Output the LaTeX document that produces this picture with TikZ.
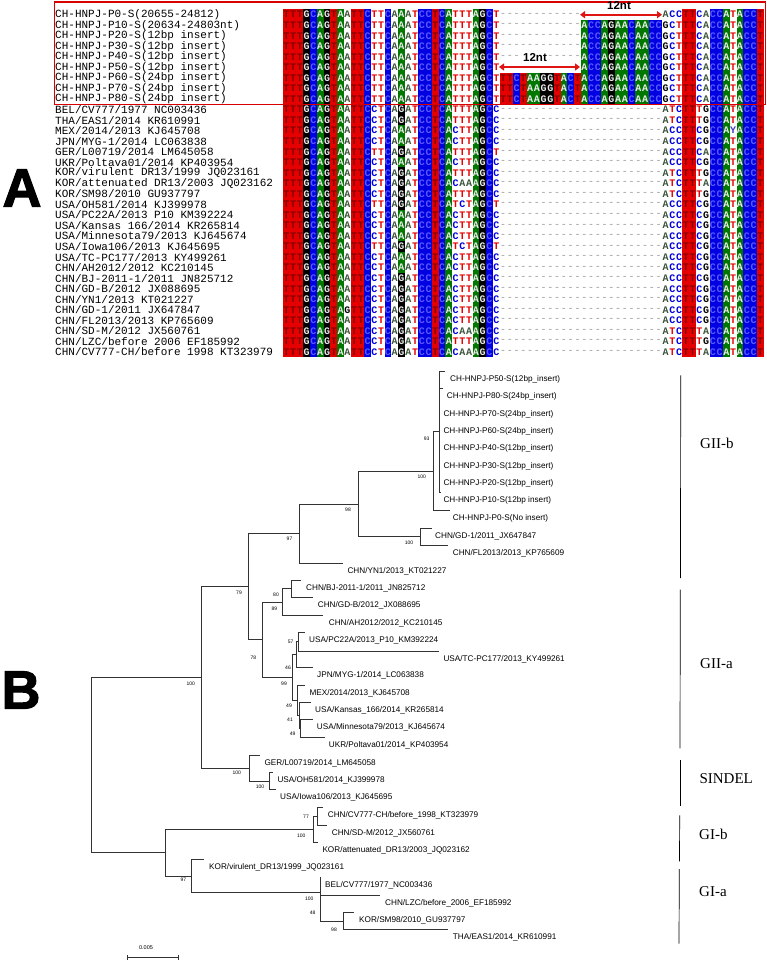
\documentclass[tikz,border=0pt]{standalone}
\usepackage{fontspec}
\setmainfont{Liberation Sans}
\newfontfamily\monof{Liberation Mono}
\newfontfamily\seriff{Liberation Serif}
\newfontfamily\heavyf[BoldFeatures={FakeBold=2}]{Liberation Sans}
\usetikzlibrary{arrows.meta}

\definecolor{bgT}{RGB}{228,0,0}
\definecolor{bgC}{RGB}{0,0,225}
\definecolor{bgA}{RGB}{0,120,0}
\definecolor{bgG}{RGB}{0,0,0}
\definecolor{bgY}{RGB}{120,120,120}
\definecolor{onT}{RGB}{130,0,0}
\definecolor{onC}{RGB}{90,90,255}
\definecolor{onA}{RGB}{235,235,235}
\definecolor{onG}{RGB}{235,235,235}
\definecolor{onY}{RGB}{235,235,235}
\definecolor{fgT}{RGB}{228,0,0}
\definecolor{fgC}{RGB}{0,0,225}
\definecolor{fgA}{RGB}{60,85,60}
\definecolor{fgG}{RGB}{0,0,0}
\definecolor{fgY}{RGB}{60,60,190}
\definecolor{arrred}{RGB}{225,20,20}

\newcount\colidx
\def\mkmask#1{\colidx=0 \mkmaskA#1\relax}
\def\mkmaskA#1{\ifx#1\relax\else\expandafter\def\csname msk\the\colidx\endcsname{#1}\advance\colidx by 1 \expandafter\mkmaskA\fi}

\def\drawres#1{%
 \if#1.\else
 \pgfmathsetmacro\cx{283+6.77*\the\colidx}%
 \if#1-%
   \node[dashc] (r\rowno-\the\colidx) at (\cx+3.385,\rowy) {-};%
 \else
   \if1\csname msk\the\colidx\endcsname
     \fill[bg#1] (\cx,\rowy-5.3) rectangle ++(6.85,10.6);%
     \node[res,text=on#1] (r\rowno-\the\colidx) at (\cx+3.385,\rowy) {#1};%
   \else
     \node[res,text=fg#1] (r\rowno-\the\colidx) at (\cx+3.385,\rowy) {#1};%
   \fi
 \fi
 \fi}
\def\walkrow#1{\ifx#1\relax\else\drawres{#1}\advance\colidx by 1 \expandafter\walkrow\fi}
\newcommand\alrow[3]{%
 \pgfmathsetmacro\rowy{14.7+10.54*#1}%
 \def\rowno{#1}%
 \node[seqlab] (lab#1) at (55,\rowy) {#2};%
 \edef\seqtmp{#3}\colidx=0 \expandafter\walkrow\seqtmp\relax}

\def\Dz{------------}
\def\Bz{............}
\def\Dh{---....-----}
\def\pP{TTTGCAGTAATTCTTCAAATCCTCATTTAGCT}
\def\pA{TTTGCAGTAATTCCTCAGATCCTCATTTAGCC}
\def\pB{TTTGCAGTAATTCCTCAAATCCTCACTTAGCC}
\def\pC{TTTGCAGTAATTCTTCAGATCCTCATCTAGCT}
\def\pD{TTTGCAGTAATTCCTCAGATCCTCACTTAGCC}
\def\pE{TTTGCAGTAATTCCTCAGATCCTCACAAAGCC}
\def\pF{TTTGCAGTAATTCTTCAGATCCTCATTTAGCT}
\def\pG{TTTGCAGTAGTTCCTCAGATCCTCACTTAGCC}
\def\iA{ACCAGAACAACC}
\def\iB{TTCTAAGGTACT}
\def\sP{ACCTTCACCATACCT}
\def\sQ{GCTTTCACCATACCT}
\def\sG{ATCTTTGCCATACCT}
\def\sAt{ATCTTTACCATACCT}
\def\sC{ACCTTCGCCATACCT}
\def\sM{ACCTTCGCCAYACCT}
\def\sF{ACCTTCACCATACCT}

\begin{document}
\begin{tikzpicture}[x=1pt,y=-1pt,
  res/.style={inner sep=0pt, font=\monof\bfseries\fontsize{10}{10}\selectfont},
  dashc/.style={inner sep=0pt, font=\monof\fontsize{10}{10}\selectfont, text=black!40},
  seqlab/.style={anchor=west, inner sep=0pt, font=\monof\fontsize{11}{11}\selectfont},
  bigletter/.style={inner sep=0pt, font=\heavyf\bfseries\fontsize{54}{54}\selectfont},
  ntlab/.style={inner sep=0pt, font=\bfseries\fontsize{11.5}{11.5}\selectfont},
  ntarrow/.style={draw=arrred, line width=2pt, {Triangle[length=5pt,width=7pt]}-{Triangle[length=5pt,width=7pt]}},
  tree/.style={draw=black!80, line width=0.75pt},
  leaf/.style={anchor=west, inner sep=0pt, font=\fontsize{8.2}{8.2}\selectfont},
  boot/.style={inner sep=0pt, font=\fontsize{5}{5}\selectfont},
  clade/.style={anchor=west, inner sep=0pt, font=\seriff\fontsize{15}{15}\selectfont},
  cladebar/.style={draw=black, line width=0.7pt}]
\useasboundingbox (0,0) rectangle (767,960);
\fill[white] (0,0) rectangle (767,960);

% ---------- Panel A: alignment ----------
\mkmask{11111111101110010100111110001110111111111111111111111111000110011101111}
\alrow{0}{CH-HNPJ-P0-S(20655-24812)}{\pP\Dz\Bz\sP}
\alrow{1}{CH-HNPJ-P10-S(20634-24803nt)}{\pP\Dz\iA\sQ}
\alrow{2}{CH-HNPJ-P20-S(12bp insert)}{\pP\Dz\iA\sQ}
\alrow{3}{CH-HNPJ-P30-S(12bp insert)}{\pP\Dz\iA\sQ}
\alrow{4}{CH-HNPJ-P40-S(12bp insert)}{\pP\Dh\iA\sQ}
\alrow{5}{CH-HNPJ-P50-S(12bp insert)}{\pP\Bz\iA\sQ}
\alrow{6}{CH-HNPJ-P60-S(24bp insert)}{\pP\iB\iA\sQ}
\alrow{7}{CH-HNPJ-P70-S(24bp insert)}{\pP\iB\iA\sQ}
\alrow{8}{CH-HNPJ-P80-S(24bp insert)}{\pP\iB\iA\sQ}
\alrow{9}{BEL/CV777/1977 NC003436}{\pA\Dz\Dz\sG}
\alrow{10}{THA/EAS1/2014 KR610991}{\pA\Dz\Dz\sG}
\alrow{11}{MEX/2014/2013 KJ645708}{\pB\Dz\Dz\sM}
\alrow{12}{JPN/MYG-1/2014 LC063838}{\pB\Dz\Dz\sC}
\alrow{13}{GER/L00719/2014 LM645058}{\pF\Dz\Dz\sF}
\alrow{14}{UKR/Poltava01/2014 KP403954}{\pB\Dz\Dz\sC}
\alrow{15}{KOR/virulent DR13/1999 JQ023161}{\pA\Dz\Dz\sG}
\alrow{16}{KOR/attenuated DR13/2003 JQ023162}{\pE\Dz\Dz\sAt}
\alrow{17}{KOR/SM98/2010 GU937797}{\pA\Dz\Dz\sG}
\alrow{18}{USA/OH581/2014 KJ399978}{\pC\Dz\Dz\sC}
\alrow{19}{USA/PC22A/2013 P10 KM392224}{\pB\Dz\Dz\sC}
\alrow{20}{USA/Kansas 166/2014 KR265814}{\pB\Dz\Dz\sC}
\alrow{21}{USA/Minnesota79/2013 KJ645674}{\pB\Dz\Dz\sC}
\alrow{22}{USA/Iowa106/2013 KJ645695}{\pC\Dz\Dz\sC}
\alrow{23}{USA/TC-PC177/2013 KY499261}{\pB\Dz\Dz\sC}
\alrow{24}{CHN/AH2012/2012 KC210145}{\pB\Dz\Dz\sC}
\alrow{25}{CHN/BJ-2011-1/2011 JN825712}{\pD\Dz\Dz\sC}
\alrow{26}{CHN/GD-B/2012 JX088695}{\pD\Dz\Dz\sC}
\alrow{27}{CHN/YN1/2013 KT021227}{\pD\Dz\Dz\sC}
\alrow{28}{CHN/GD-1/2011 JX647847}{\pG\Dz\Dz\sC}
\alrow{29}{CHN/FL2013/2013 KP765609}{\pD\Dz\Dz\sC}
\alrow{30}{CHN/SD-M/2012 JX560761}{\pE\Dz\Dz\sAt}
\alrow{31}{CHN/LZC/before 2006 EF185992}{\pA\Dz\Dz\sG}
\alrow{32}{CHN/CV777-CH/before 1998 KT323979}{\pE\Dz\Dz\sAt}

\coordinate (boxa) at (54.5,2);
\coordinate (boxb) at (765.5,104.5);
\draw[draw=red!85!black, line width=1.2pt] (boxa) rectangle (boxb);

\coordinate (ar1a) at (580,14.7);
\coordinate (ar1b) at (662,14.7);
\draw[ntarrow] (ar1a) -- (ar1b);
\node[ntlab] (nt1) at (619,5.6) {12nt};
\coordinate (ar2a) at (499,67);
\coordinate (ar2b) at (580,67);
\draw[ntarrow] (ar2a) -- (ar2b);
\node[ntlab] (nt2) at (535,57.2) {12nt};

\node[bigletter] (labA) at (22,188) {A};
\node[bigletter] (labB) at (21,690) {B};

% ---------- Panel B: tree ----------
\coordinate (n93) at (439.3,431.85);
\coordinate (lP50) at (445,371);
\coordinate (lP80) at (443,388.7);
\coordinate (lP70) at (439.3,406);
\coordinate (lP60) at (439.3,423.3);
\coordinate (lP40) at (439.3,440.7);
\coordinate (lP30) at (439.3,458);
\coordinate (lP20) at (439.3,475.3);
\coordinate (lP10) at (441,492.7);
\coordinate (nP) at (433.3,471.3);
\coordinate (lP0) at (450,510.7);
\coordinate (nGF) at (420,536.8);
\coordinate (lGD1) at (431.7,528.3);
\coordinate (lFL) at (448.3,545.3);
\coordinate (nY) at (358,504.05);
\coordinate (lYN1) at (343,563.3);
\coordinate (nX) at (299.3,533.7);
\coordinate (nBG) at (291,588.8);
\coordinate (lBJ) at (300.7,580.3);
\coordinate (lGDB) at (313.3,597.3);
\coordinate (nC1) at (282.7,602.05);
\coordinate (lAH) at (323.3,615.3);
\coordinate (n57) at (298,641.85);
\coordinate (lPC) at (305,632.7);
\coordinate (lTC) at (439,651);
\coordinate (nU) at (296.7,654.6);
\coordinate (lJPN) at (313,667.3);
\coordinate (nL3) at (300.7,728.7);
\coordinate (lMIN) at (312.5,719.7);
\coordinate (lUKR) at (324.5,737.7);
\coordinate (nL2) at (299.5,715.7);
\coordinate (lKAN) at (311,702.7);
\coordinate (nL) at (297.5,700.5);
\coordinate (lMEX) at (305,685.3);
\coordinate (n99) at (292.3,677.55);
\coordinate (nGIIa) at (262.3,639.8);
\coordinate (n79) at (248.3,586.75);
\coordinate (nOI) at (269.3,781);
\coordinate (lOH) at (273,772.3);
\coordinate (lIO) at (276,789.7);
\coordinate (lGER) at (260,755.3);
\coordinate (nSIN) at (249,768.15);
\coordinate (nGII) at (201.7,677.45);
\coordinate (n77) at (317.7,816.15);
\coordinate (lCV) at (322.5,807.3);
\coordinate (lSDM) at (327,825);
\coordinate (lKATT) at (318,842);
\coordinate (nGIb) at (313.3,829.1);
\coordinate (lKVIR) at (204,859.7);
\coordinate (lBEL) at (321,877.3);
\coordinate (lLZC) at (380,895);
\coordinate (lSM) at (354,912.3);
\coordinate (lTHA) at (448.3,929.7);
\coordinate (n98b) at (343.3,921);
\coordinate (n48) at (320.7,908);
\coordinate (nGIa) at (320,892.65);
\coordinate (n97b) at (191.7,876.2);
\coordinate (nGI) at (165.7,852.65);
\coordinate (nRoot) at (91.7,765.05);

\draw[tree] (n93) |- (lP50);
\draw[tree] (n93) |- (lP80);
\draw[tree] (n93) |- (lP10);
\draw[tree] (nP) |- (n93);
\draw[tree] (nP) |- (lP0);
\draw[tree] (nGF) |- (lGD1);
\draw[tree] (nGF) |- (lFL);
\draw[tree] (nY) |- (nP);
\draw[tree] (nY) |- (nGF);
\draw[tree] (nX) |- (nY);
\draw[tree] (nX) |- (lYN1);
\draw[tree] (nBG) |- (lBJ);
\draw[tree] (nBG) |- (lGDB);
\draw[tree] (nC1) |- (nBG);
\draw[tree] (nC1) |- (lAH);
\draw[tree] (n57) |- (lPC);
\draw[tree] (n57) |- (lTC);
\draw[tree] (nU) |- (n57);
\draw[tree] (nU) |- (lJPN);
\draw[tree] (nL3) |- (lMIN);
\draw[tree] (nL3) |- (lUKR);
\draw[tree] (nL2) |- (lKAN);
\draw[tree] (nL2) |- (nL3);
\draw[tree] (nL) |- (lMEX);
\draw[tree] (nL) |- (nL2);
\draw[tree] (n99) |- (nU);
\draw[tree] (n99) |- (nL);
\draw[tree] (nGIIa) |- (nC1);
\draw[tree] (nGIIa) |- (n99);
\draw[tree] (n79) |- (nX);
\draw[tree] (n79) |- (nGIIa);
\draw[tree] (nOI) |- (lOH);
\draw[tree] (nOI) |- (lIO);
\draw[tree] (nSIN) |- (lGER);
\draw[tree] (nSIN) |- (nOI);
\draw[tree] (nGII) |- (n79);
\draw[tree] (nGII) |- (nSIN);
\draw[tree] (n77) |- (lCV);
\draw[tree] (n77) |- (lSDM);
\draw[tree] (nGIb) |- (n77);
\draw[tree] (nGIb) |- (lKATT);
\draw[tree] (n98b) |- (lSM);
\draw[tree] (n98b) |- (lTHA);
\draw[tree] (n48) |- (lLZC);
\draw[tree] (n48) |- (n98b);
\draw[tree] (nGIa) |- (lBEL);
\draw[tree] (nGIa) |- (n48);
\draw[tree] (n97b) |- (lKVIR);
\draw[tree] (n97b) |- (nGIa);
\draw[tree] (nGI) |- (nGIb);
\draw[tree] (nGI) |- (n97b);
\draw[tree] (nRoot) |- (nGII);
\draw[tree] (nRoot) |- (nGI);

% leaf labels
\node[leaf] (tP50) at (450,379) {CH-HNPJ-P50-S(12bp\_insert)};
\node[leaf] (tP80) at (446.7,396.7) {CH-HNPJ-P80-S(24bp\_insert)};
\node[leaf] (tP70) at (443.3,414) {CH-HNPJ-P70-S(24bp\_insert)};
\node[leaf] (tP60) at (443.3,431.3) {CH-HNPJ-P60-S(24bp\_insert)};
\node[leaf] (tP40) at (443.3,448.7) {CH-HNPJ-P40-S(12bp\_insert)};
\node[leaf] (tP30) at (443.3,466) {CH-HNPJ-P30-S(12bp\_insert)};
\node[leaf] (tP20) at (443.3,483.3) {CH-HNPJ-P20-S(12bp\_insert)};
\node[leaf] (tP10) at (443.3,500.7) {CH-HNPJ-P10-S(12bp insert)};
\node[leaf] (tP0) at (452.7,518.7) {CH-HNPJ-P0-S(No insert)};
\node[leaf] (tGD1) at (435,536) {CHN/GD-1/2011\_JX647847};
\node[leaf] (tFL) at (452.7,553.3) {CHN/FL2013/2013\_KP765609};
\node[leaf] (tYN1) at (347.3,571) {CHN/YN1/2013\_KT021227};
\node[leaf] (tBJ) at (306,588.3) {CHN/BJ-2011-1/2011\_JN825712};
\node[leaf] (tGDB) at (317.7,605.3) {CHN/GD-B/2012\_JX088695};
\node[leaf] (tAH) at (328.7,623.3) {CHN/AH2012/2012\_KC210145};
\node[leaf] (tPC) at (309,640.7) {USA/PC22A/2013\_P10\_KM392224};
\node[leaf] (tTC) at (443.3,659) {USA/TC-PC177/2013\_KY499261};
\node[leaf] (tJPN) at (317,675.3) {JPN/MYG-1/2014\_LC063838};
\node[leaf] (tMEX) at (309.3,693.3) {MEX/2014/2013\_KJ645708};
\node[leaf] (tKAN) at (315,710.7) {USA/Kansas\_166/2014\_KR265814};
\node[leaf] (tMIN) at (316.7,727.7) {USA/Minnesota79/2013\_KJ645674};
\node[leaf] (tUKR) at (328.7,745.7) {UKR/Poltava01/2014\_KP403954};
\node[leaf] (tGER) at (264.3,763.3) {GER/L00719/2014\_LM645058};
\node[leaf] (tOH) at (277.3,780.3) {USA/OH581/2014\_KJ399978};
\node[leaf] (tIO) at (280,797.7) {USA/Iowa106/2013\_KJ645695};
\node[leaf] (tCV) at (327.7,815.3) {CHN/CV777-CH/before\_1998\_KT323979};
\node[leaf] (tSDM) at (331.7,833) {CHN/SD-M/2012\_JX560761};
\node[leaf] (tKATT) at (322.3,850) {KOR/attenuated\_DR13/2003\_JQ023162};
\node[leaf] (tKVIR) at (209,867.7) {KOR/virulent\_DR13/1999\_JQ023161};
\node[leaf] (tBEL) at (325,885.3) {BEL/CV777/1977\_NC003436};
\node[leaf] (tLZC) at (385,903) {CHN/LZC/before\_2006\_EF185992};
\node[leaf] (tSM) at (359,920.3) {KOR/SM98/2010\_GU937797};
\node[leaf] (tTHA) at (452.7,937.7) {THA/EAS1/2014\_KR610991};

% bootstrap values
\node[boot] (b93) at (426.7,438.3) {93};
\node[boot] (bP) at (421.7,476.7) {100};
\node[boot] (bGF) at (409,542.3) {100};
\node[boot] (bY) at (348,509.5) {98};
\node[boot] (bX) at (289.5,539) {97};
\node[boot] (b79) at (239,592.3) {79};
\node[boot] (bBG) at (276,594.7) {80};
\node[boot] (bC1) at (274.3,608.3) {89};
\node[boot] (bGIIa) at (253.3,657.3) {78};
\node[boot] (b57) at (290.7,641.3) {57};
\node[boot] (bU) at (288,667.3) {46};
\node[boot] (b99) at (284,683.3) {99};
\node[boot] (bL) at (289,706) {49};
\node[boot] (bL2) at (290,719.3) {41};
\node[boot] (bL3) at (292.7,734) {49};
\node[boot] (bGII) at (190.7,683.3) {100};
\node[boot] (bSIN) at (236.7,772.7) {100};
\node[boot] (bOI) at (260,786.7) {100};
\node[boot] (b77) at (306,816.7) {77};
\node[boot] (bGIb) at (301.3,835.7) {100};
\node[boot] (b97b) at (183.3,880) {97};
\node[boot] (bGIa) at (309.3,898.3) {100};
\node[boot] (b48) at (312.7,912.7) {48};
\node[boot] (b98b) at (334,929.3) {98};

% clade bars
\coordinate (c1a) at (680.7,375.3); \coordinate (c1b) at (680.5,578.1);
\coordinate (c2a) at (680.3,589.6); \coordinate (c2b) at (680,748.4);
\coordinate (c3a) at (680,760); \coordinate (c3b) at (680,806);
\coordinate (c4a) at (679.7,815.4); \coordinate (c4b) at (679.5,861.3);
\coordinate (c5a) at (679.3,869); \coordinate (c5b) at (679,943.6);
\draw[cladebar] (c1a) -- (c1b);
\draw[cladebar] (c2a) -- (c2b);
\draw[cladebar] (c3a) -- (c3b);
\draw[cladebar] (c4a) -- (c4b);
\draw[cladebar] (c5a) -- (c5b);
\node[clade] (gIIb) at (700,443.4) {GII-b};
\node[clade] (gIIa) at (700,663.5) {GII-a};
\node[clade] (gSIN) at (699.3,779) {SINDEL};
\node[clade] (gIb) at (699,834.5) {GI-b};
\node[clade] (gIa) at (699,892) {GI-a};

% scale bar
\coordinate (sb1) at (127.7,957.3);
\coordinate (sb2) at (178.3,957.3);
\draw[tree] (sb1) -- (sb2);
\draw[tree] ([yshift=-2.5pt]sb1) -- ([yshift=2pt]sb1);
\draw[tree] ([yshift=-2.5pt]sb2) -- ([yshift=2pt]sb2);
\node[boot, font=\fontsize{5.5}{5.5}\selectfont] (sbl) at (146,947.7) {0.005};
\end{tikzpicture}
\end{document}
